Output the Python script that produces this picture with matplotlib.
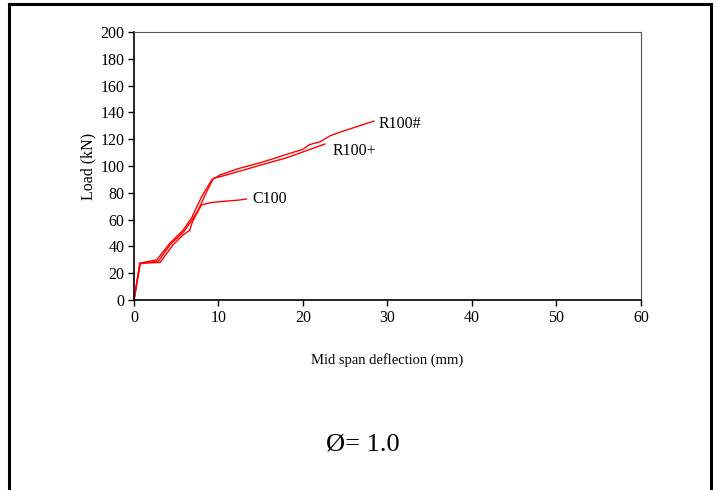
import matplotlib
matplotlib.use("Agg")
import matplotlib.pyplot as plt
from matplotlib.lines import Line2D

plt.rcParams['font.family'] = ['Liberation Serif', 'DejaVu Serif']

# load-deflection curves (mm, kN)
r100_hash_x = [0, 0.7, 2.7, 4.2, 5.8, 6.8, 8.0, 9.2, 10.2, 12.5, 15.0, 18.0, 20.0, 20.8, 22.0, 23.2, 24.5, 28.4]
r100_hash_y = [0, 27.5, 30.0, 42.0, 52.0, 61.0, 77.0, 89.6, 93.3, 98.3, 102.5, 108.5, 112.5, 116.0, 118.0, 122.5, 125.5, 133.5]

r100_plus_x = [0, 0.75, 2.9, 4.3, 5.9, 6.9, 7.6, 8.6, 9.4, 10.5, 13.0, 15.0, 18.0, 20.0, 22.6]
r100_plus_y = [0, 27.0, 29.0, 41.5, 51.0, 60.0, 67.0, 80.8, 90.8, 92.5, 97.0, 100.7, 106.0, 110.5, 116.4]

c100_x = [0, 0.7, 3.1, 4.6, 5.8, 6.6, 6.8, 6.9, 7.3, 8.0, 9.0, 10.2, 12.5, 13.3]
c100_y = [0, 27.5, 28.0, 41.0, 48.5, 52.0, 56.0, 58.0, 63.0, 70.9, 72.6, 73.4, 74.6, 75.4]

labels = ["R100#", "R100+", "C100"]
label_x = [29.0, 23.5, 14.0]
label_y = [131.0, 111.0, 75.0]

fig = plt.figure(figsize=(7.18, 4.9), dpi=100)
ax = fig.add_axes([0.1866, 0.3878, 0.7061, 0.5469])

for xs, ys in [(r100_hash_x, r100_hash_y), (r100_plus_x, r100_plus_y), (c100_x, c100_y)]:
    ax.plot(xs, ys, color='#ff0000', lw=1.0)

for name, lx, ly in zip(labels, label_x, label_y):
    ax.text(lx, ly, name, fontsize=11.5, va='center', ha='left')

ax.set_xlim(0, 60)
ax.set_ylim(0, 200)
ax.set_xticks(range(0, 61, 10))
ax.set_yticks(range(0, 201, 20))
ax.tick_params(direction='out', length=4, width=1, labelsize=11.5, pad=3)
ax.spines['left'].set_linewidth(1.2)
ax.spines['bottom'].set_linewidth(1.2)
for side in ['top', 'right']:
    ax.spines[side].set_color('#555555')
    ax.spines[side].set_linewidth(0.8)

ax.set_xlabel("Mid span deflection (mm)", fontsize=10.5, labelpad=20)
ax.set_ylabel("Load (kN)", fontsize=11.5, labelpad=3)

fig.text(0.505, 0.092, "Ø= 1.0", fontsize=19, ha='center', va='center')

# outer frame, open at the bottom
fx0, fx1, fy1 = 0.0125, 0.990, 0.992
fig.add_artist(Line2D([fx0, fx0], [0, fy1], color='black', lw=2.2, transform=fig.transFigure))
fig.add_artist(Line2D([fx0, fx1], [fy1, fy1], color='black', lw=2.2, transform=fig.transFigure))
fig.add_artist(Line2D([fx1, fx1], [0, fy1], color='black', lw=2.2, transform=fig.transFigure))

fig.savefig("out.png", dpi=100)
